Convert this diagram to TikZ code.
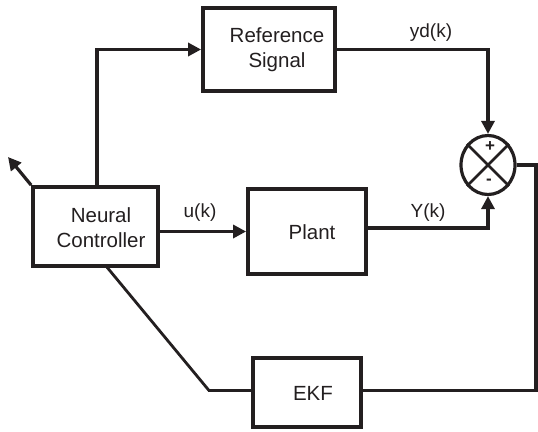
\documentclass[tikz,border=0pt]{standalone}
\usepackage{fontspec}
\setmainfont{Liberation Sans}
\usetikzlibrary{arrows.meta,shapes.geometric}
\definecolor{ink}{RGB}{35,31,32}
\begin{document}
\begin{tikzpicture}[x=1pt,y=-1pt,
  every node/.style={text=ink},
  block/.style={draw=ink,line width=3.8pt,rectangle,inner sep=0pt},
  txt/.style={font=\fontsize{20.5}{25}\selectfont,align=center,inner sep=0pt},
  lbl/.style={font=\fontsize{19}{23}\selectfont,inner sep=0pt},
  sign/.style={font=\fontsize{17}{20}\selectfont\bfseries,inner sep=0pt},
  wire/.style={draw=ink,line width=3.2pt},
  thin wire/.style={draw=ink,line width=2.8pt},
  arr/.style={wire,-{Triangle[length=13pt,width=13pt]}}]
\useasboundingbox (0,0) rectangle (538,431);

% blocks
\node[block,minimum width=132pt,minimum height=83pt] (ref)   at (269,49.5) {};
\node[block,minimum width=125pt,minimum height=79pt] (nc)    at (95.5,226.5) {};
\node[block,minimum width=118pt,minimum height=85pt] (plant) at (307,231.5) {};
\node[block,minimum width=108pt,minimum height=69pt] (ekf)   at (307,392.5) {};

% block captions
\node[txt] (reft)   at (277,50)  {Reference\\Signal};
\node[txt] (nct)    at (101,228) {Neural\\Controller};
\node[txt] (plantt) at (312,232) {Plant};
\node[txt] (ekft)   at (313,393) {EKF};

% summing junction
\node[draw=ink,line width=3.2pt,ellipse,minimum width=54pt,minimum height=59pt,inner sep=0pt] (sum) at (488,165) {};
\draw[ink,line width=2.8pt] (sum.45) -- (sum.225) (sum.135) -- (sum.315);
\node[sign] (plus)  at (490,147) {+};
\node[sign] (minus) at (489,182) {-};

% helper points
\coordinate (tip)  at (8,157);
\coordinate (outR) at (536,390.5);
\coordinate (bend) at (209,390.5);
\coordinate (ncb)  at (106,266);

% signal paths
\draw[arr] ([xshift=1.5pt]nc.north) |- (ref.west);
\draw[arr] (plant.west -| nc.east) -- (plant.west);
\draw[arr] (ref.east) -| (sum.north);
\draw[arr] ([yshift=3.5pt]plant.east) -| (sum.south);
\draw[wire] (sum.east) -| (outR) -- (ekf.east |- outR);
\draw[thin wire] (ekf.west |- bend) -- (bend) -- (ncb);
\draw[arr] (nc.north west) -- (tip);

% signal labels
\node[lbl] (yd) at (431,33)  {yd(k)};
\node[lbl] (yk) at (428,213) {Y(k)};
\node[lbl] (uk) at (200,213) {u(k)};
\end{tikzpicture}
\end{document}
